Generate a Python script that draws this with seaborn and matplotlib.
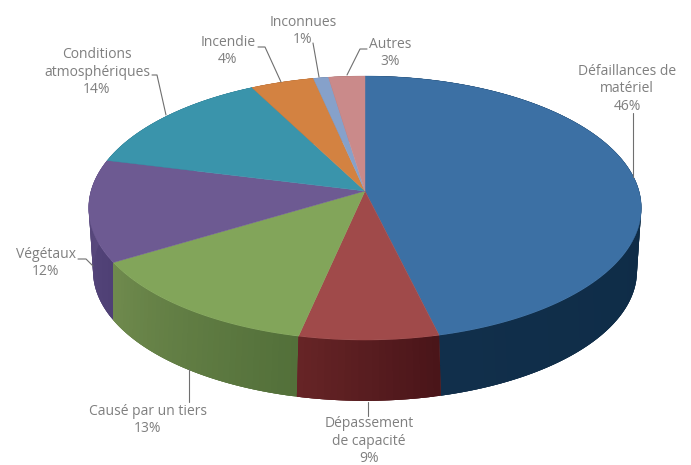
import numpy as np
import matplotlib
matplotlib.use("Agg")
import matplotlib.pyplot as plt
import seaborn as sns

# slice order is clockwise from 12 o'clock
categories = ["Défaillances de\nmatériel", "Dépassement\nde capacité", "Causé par un tiers", "Végétaux",
              "Conditions\natmosphériques", "Incendie", "Inconnues", "Autres"]
printed_pct = [46, 9, 13, 12, 14, 4, 1, 3]
# shares as actually drawn in the picture (the printed ones add up to 102)
shares = [46.2, 7.2, 13.0, 12.5, 13.5, 4.2, 1.0, 2.4]

top_colors = ["#3c70a4", "#a04a4a", "#82a55a", "#6d5a92", "#3a94ab", "#d38241", "#86a1ca", "#ca8a8a"]
side_from = ["#0a2740", "#4a1519", "#53703a", "#4f4075", "#2a6e80", "#9a5e2e", "#5f7596", "#966060"]
side_to = ["#112f4b", "#662426", "#6f8a4d", "#5c4c80", "#2a6e80", "#9a5e2e", "#5f7596", "#966060"]

# label centres and leader lines, in pixels
label_xy = [(627, 89), (369, 441), (148, 420), (46, 263), (97, 72), (228, 51), (303, 31), (390, 53)]
leaders = [
    [(633, 113), (633, 177)],
    [(368, 402), (368, 416)],
    [(189, 369), (189, 402)],
    [(78, 259), (86, 259), (93, 266)],
    [(152, 75), (157, 75), (166, 115)],
    [(258, 47), (265, 47), (281, 82)],
    [(313, 43), (319, 77)],
    [(367, 49), (360, 49), (347, 75)],
]

sns.set_theme(style="white")
plt.rcParams["font.family"] = ["Open Sans", "DejaVu Sans"]


def rim(theta, cx, cy, a, b, k):
    # tilted circle: perspective makes the near half bigger
    x = np.sin(theta)
    y = np.cos(theta)
    w = 1 + k * y
    return cx + a * x / w, cy - b * y / w


def wall(t, **kw):
    x1, y1 = rim(t, **top)
    x2, y2 = rim(t[::-1], **low)
    ax.fill(np.r_[x1, x2], np.r_[y1, y2], **kw)


top = dict(cx=365, cy=191, a=274, b=129.8, k=0.129)
low = dict(cx=365, cy=249, a=268, b=126, k=0.17)

fig = plt.figure(figsize=(6.91, 4.65), dpi=100)
ax = fig.add_axes([0, 0, 1, 1])
ax.set_xlim(0, 691)
ax.set_ylim(465, 0)
ax.axis("off")

edges = np.cumsum([0] + shares) / 100 * 2 * np.pi

# outer wall, back to front: a plain base for each slice, then the shading on it
order = sorted(range(len(shares)), key=lambda i: -np.cos((edges[i] + edges[i + 1]) / 2))
for i in order:
    n = max(int(shares[i] * 3), 4)
    cols = sns.blend_palette([side_from[i], side_to[i]], n)
    t = np.linspace(edges[i], edges[i + 1], n + 1)
    wall(np.linspace(edges[i], edges[i + 1], 100), color=cols[n // 2], lw=0)
    for j in range(n):
        # each strip runs on under the next one so no seams show
        wall(np.linspace(t[j], t[min(j + 2, n)], 8), color=cols[j], lw=0)

# top face
for i in range(len(shares)):
    t = np.linspace(edges[i], edges[i + 1], 200)
    x, y = rim(t, **top)
    ax.fill(np.r_[top["cx"], x], np.r_[top["cy"], y], color=top_colors[i], lw=0.3)

for pts in leaders:
    xs, ys = zip(*pts)
    ax.plot(xs, ys, color="#6f6f6f", lw=0.8)

for name, pct, (x, y) in zip(categories, printed_pct, label_xy):
    ax.text(x, y, f"{name}\n{pct}%", ha="center", va="center", fontsize=10,
            color="#7f7f7f", linespacing=1.2)

fig.savefig("out.png", dpi=100)
